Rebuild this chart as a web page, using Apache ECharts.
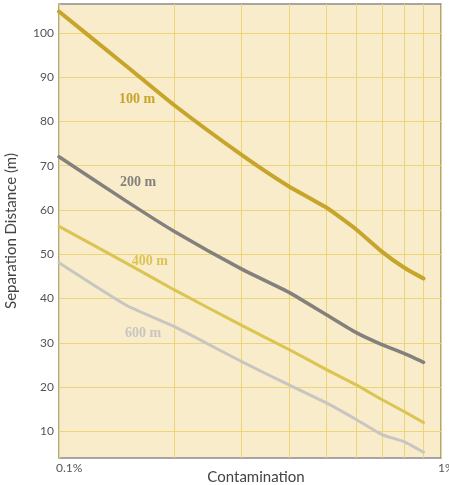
<!DOCTYPE html>
<html>
<head>
<meta charset="utf-8">
<script src="https://cdn.jsdelivr.net/npm/echarts@6/dist/echarts.min.js"></script>
<style>
  html, body { margin: 0; padding: 0; background: #fff; }
  #chart { width: 449px; height: 485px; }
</style>
</head>
<body>
<div id="chart"></div>
<script>
"use strict"

// contamination (%) sampled along each curve
const contamination = [0.1, 0.15, 0.2, 0.3, 0.4, 0.5, 0.6, 0.7, 0.8, 0.9];
const dist100 = [104.8, 92.5, 83.7, 72.5, 65.3, 60.6, 55.6, 50.6, 47, 44.5];
const dist200 = [72, 62, 55.2, 46.7, 41.4, 36.4, 32.3, 29.6, 27.6, 25.6];
const dist400 = [56.3, 48, 42, 34, 28.5, 24, 20.5, 17.2, 14.5, 12];
const dist600 = [48.1, 38.5, 33.7, 25.8, 20.5, 16.5, 12.7, 9.3, 7.7, 5.3];

const seriesNames = ["100 m", "200 m", "400 m", "600 m"];
const seriesData = [dist100, dist200, dist400, dist600];
const seriesColors = ["#c7a52b", "#85807d", "#dcc453", "#c9c6c1"];
const lineWidths = [4, 3.5, 3, 3];
// where the in-chart name of each curve sits (data units)
const labelAt = [[0.16, 85], [0.161, 66.2], [0.173, 48.4], [0.166, 32.1]];

const xGridValues = [0.1, 0.2, 0.3, 0.4, 0.5, 0.6, 0.7, 0.8, 0.9, 1];
const xLabelValues = [0.1, 1];
const yTickValues = [10, 20, 30, 40, 50, 60, 70, 80, 90, 100];

const gridColor = "#ecd479";
const textColor = "#555";

const myChart = echarts.init(document.getElementById("chart"), null, { renderer: "canvas" });

const series = seriesNames.map((name, i) => ({
    name: name,
    type: "line",
    smooth: 0.15,
    symbol: "none",
    data: contamination.map((x, j) => [x, seriesData[i][j]]),
    lineStyle: { color: seriesColors[i], width: lineWidths[i], cap: "round" },
    itemStyle: { color: seriesColors[i] },
    markPoint: {
        symbol: "circle",
        symbolSize: 0,
        silent: true,
        data: [{ coord: labelAt[i], value: name }],
        label: {
            show: true,
            position: "inside",
            formatter: name,
            color: seriesColors[i],
            fontFamily: "Liberation Serif",
            fontWeight: "bold",
            fontSize: 14
        }
    }
}));

const option = {
    animation: false,
    grid: {
        left: 59, top: 4, right: 8, bottom: 27,
        containLabel: false,
        outerBoundsMode: "none",
        show: true,
        backgroundColor: "#f8ecca",
        borderColor: "#8c8c8c",
        borderWidth: 1.5
    },
    xAxis: {
        type: "log",
        logBase: 10,
        min: 0.1,
        max: 1,
        name: "Contamination",
        nameLocation: "middle",
        nameGap: 12,
        nameMoveOverlap: false,
        nameTextStyle: { color: "#444", fontFamily: "Lato", fontSize: 15, padding: [0, 0, 0, 12] },
        axisLine: { show: false },
        axisTick: { show: false, customValues: xGridValues },
        axisLabel: {
            customValues: xLabelValues,
            formatter: v => v + "%",
            color: textColor,
            fontFamily: "Lato",
            fontSize: 12,
            align: "left",
            margin: 4,
            padding: [0, 0, 0, -3]
        },
        splitLine: { show: true, lineStyle: { color: gridColor, width: 1 } },
        minorSplitLine: { show: false }
    },
    yAxis: {
        type: "value",
        min: 4,
        max: 106.5,
        name: "Separation Distance (m)",
        nameLocation: "middle",
        nameGap: 40,
        nameMoveOverlap: false,
        nameTextStyle: { color: "#444", fontFamily: "Lato", fontSize: 15 },
        axisLine: { show: false },
        axisTick: { show: false, customValues: yTickValues },
        axisLabel: {
            customValues: yTickValues,
            color: textColor,
            fontFamily: "Lato",
            fontSize: 12,
            margin: 5
        },
        splitLine: { show: true, lineStyle: { color: gridColor, width: 1 } }
    },
    series: series
};

myChart.setOption(option);
</script>
</body>
</html>
